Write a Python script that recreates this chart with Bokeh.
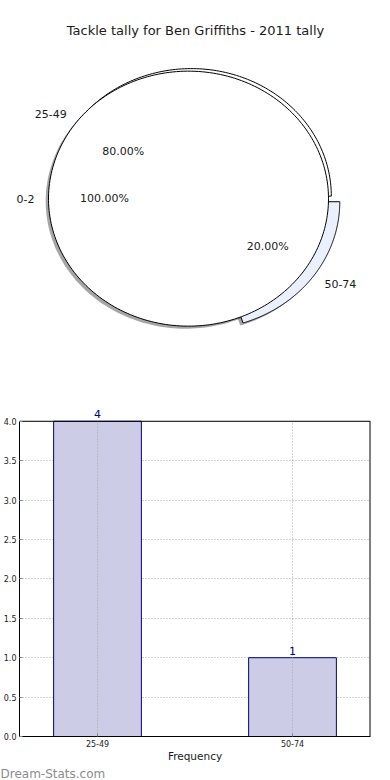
import numpy as np
from bokeh.plotting import figure
from bokeh.models import (Range1d, ColumnDataSource, Label, LabelSet, Title,
                          FixedTicker, NumeralTickFormatter)
from bokeh.embed import file_html
from bokeh.resources import INLINE
from bokeh.core.properties import value

# ---------------- data ----------------
TITLE = "Tackle tally for Ben Griffiths - 2011 tally"
pie_labels = ["0-2", "25-49", "50-74"]
pie_pcts = [100.0, 80.0, 20.0]

bar_cats = ["25-49", "50-74"]
bar_counts = [4, 1]
y_ticks = [0.0, 0.5, 1.0, 1.5, 2.0, 2.5, 3.0, 3.5, 4.0]
WATERMARK = "Dream-Stats.com"

# ---------------- styles ----------------
FONT = "DejaVu Sans"
pie_colors = ["#ffffff", "#ffffff", "#eaf0fd"]
pie_explode = [0.0, 0.0, 0.075]
pie_shift = [(-0.02, -0.02), (0.0, 0.0), (0.0, 0.0)]
SHADOW = (-0.02, -0.02)

# ---------------- pie ----------------
PW, PH = 390, 380
RX, RY = 140.0, 127.5        # px per unit radius
CX, CY = 190.8, 195.6        # px of pie centre inside figure (from left/top)
pie = figure(width=PW, height=PH, output_backend="svg", toolbar_location=None,
             x_range=Range1d(-CX / RX, (PW - CX) / RX),
             y_range=Range1d(-(PH - CY) / RY, CY / RY),
             x_axis_location=None, y_axis_location=None, min_border=0)
pie.grid.visible = False
pie.outline_line_color = None
pie.background_fill_color = "white"


def wedge_xy(cx, cy, t1, t2, n=240):
    th = np.radians(np.linspace(t1, t2, n))
    xs = cx + np.cos(th)
    ys = cy + np.sin(th)
    if t2 - t1 < 359.999:
        xs = np.concatenate([[cx], xs, [cx]])
        ys = np.concatenate([[cy], ys, [cy]])
    return list(xs), list(ys)


angles = [p * 3.6 for p in pie_pcts]
starts = list(np.cumsum([0.0] + angles[:-1]))
wedges = []
for i, lab in enumerate(pie_labels):
    t1 = starts[i]
    t2 = t1 + angles[i]
    mid = np.radians((t1 + t2) / 2)
    cx = pie_shift[i][0] + pie_explode[i] * np.cos(mid)
    cy = pie_shift[i][1] + pie_explode[i] * np.sin(mid)
    wedges.append((cx, cy, t1, t2, mid))

# shadows
sx, sy = [], []
for cx, cy, t1, t2, mid in wedges:
    xs, ys = wedge_xy(cx + SHADOW[0], cy + SHADOW[1], t1, t2)
    sx.append(xs)
    sy.append(ys)
pie.patches(sx, sy, fill_color="#4d4d4d", fill_alpha=0.5, line_color=None)

# wedges, last first
for i in reversed(range(len(pie_labels))):
    cx, cy, t1, t2, mid = wedges[i]
    xs, ys = wedge_xy(cx, cy, t1, t2)
    pie.patch(xs, ys, fill_color=pie_colors[i], line_color="black", line_width=1)

# labels
lx, ly, la, px_, py_, pt = [], [], [], [], [], []
for i, lab in enumerate(pie_labels):
    cx, cy, t1, t2, mid = wedges[i]
    lx.append(cx + 1.1 * np.cos(mid))
    ly.append(cy + 1.1 * np.sin(mid))
    la.append("right" if np.cos(mid) < 0 else "left")
    px_.append(cx + 0.6 * np.cos(mid))
    py_.append(cy + 0.6 * np.sin(mid))
    pt.append("%.2f%%" % pie_pcts[i])
pie.text(x=lx, y=ly, text=pie_labels, text_align=la, text_baseline="middle",
         text_font=value(FONT), text_font_size="11px", text_color="#1a1a1a")
pie.text(x=px_, y=py_, text=pt, text_align="center", text_baseline="middle",
         text_font=value(FONT), text_font_size="11px", text_color="#1a1a1a")

pie.add_layout(Label(x=195, y=PH - 30, x_units="screen", y_units="screen",
                     text=TITLE, text_align="center", text_baseline="middle",
                     text_font=FONT, text_font_size="13px", text_color="#1a1a1a"))

# ---------------- bars ----------------
BW, BH = 390, 400
BOTTOM = 42                  # px reserved below the frame
TOPPAD = 41                  # px above the 4.0 line (room for value labels)
X0, X1 = -0.4, 1.4
Y_TOP = y_ticks[-1]
frame_h = BH - BOTTOM
y_end = Y_TOP + TOPPAD * Y_TOP / (frame_h - TOPPAD)

bar = figure(width=BW, height=BH, output_backend="svg", toolbar_location=None,
             x_range=Range1d(X0, X1), y_range=Range1d(0, y_end),
             min_border_top=0, min_border_right=20, min_border_left=19,
             min_border_bottom=BOTTOM)
bar.outline_line_color = None
src = ColumnDataSource(dict(x=list(range(len(bar_cats))), top=bar_counts,
                            lab=[str(c) for c in bar_counts],
                            y0=[0] * len(bar_cats), y1=[Y_TOP] * len(bar_cats)))

# horizontal grid (under bars)
bar.ygrid.ticker = FixedTicker(ticks=y_ticks)
bar.ygrid.level = "underlay"
bar.ygrid.grid_line_color = "#a8a8a8"
bar.ygrid.grid_line_dash = "1 2"
bar.xgrid.visible = False

bar.vbar(x="x", top="top", width=0.45, source=src, fill_color="#ccccE6",
         line_color="#000080", line_width=1)
# vertical grid lines at the categories, drawn over the bars
bar.segment(x0="x", y0="y0", x1="x", y1="y1", source=src,
            line_color="#a8a8a8", line_dash="1 2", line_width=1)
# top and right border of the plotting box (box ends at the 4.0 line)
bar.segment(x0=[X0], y0=[Y_TOP], x1=[X1], y1=[Y_TOP], line_color="black",
            line_width=1)
bar.segment(x0=[X1], y0=[0], x1=[X1], y1=[Y_TOP], line_color="black",
            line_width=2)

bar.add_layout(LabelSet(x="x", y="top", text="lab", source=src,
                        text_align="center", text_baseline="bottom", y_offset=3,
                        text_color="#000080", text_font=value(FONT),
                        text_font_size="11px"))

bar.xaxis.ticker = FixedTicker(ticks=list(range(len(bar_cats))))
bar.xaxis.major_label_overrides = {i: c for i, c in enumerate(bar_cats)}
bar.yaxis.ticker = FixedTicker(ticks=y_ticks)
bar.yaxis.formatter = NumeralTickFormatter(format="0.0")
bar.yaxis.bounds = (0, Y_TOP)

for ax in (bar.xaxis[0], bar.yaxis[0]):
    ax.axis_line_color = "black"
    ax.major_tick_in = 3
    ax.major_tick_out = 0
    ax.major_tick_line_color = "#888888"
    ax.minor_tick_line_color = None
    ax.major_label_text_font = FONT
    ax.major_label_text_color = "#222222"
    ax.major_label_text_font_size = "8px"
    ax.major_label_standoff = 3
bar.xaxis.axis_label = "Frequency"
bar.xaxis.axis_label_text_font = FONT
bar.xaxis.axis_label_text_font_size = "10.5px"
bar.xaxis.axis_label_text_font_style = "normal"
bar.xaxis.axis_label_text_color = "#1a1a1a"
bar.xaxis.axis_label_standoff = 0

bar.add_layout(Title(text=WATERMARK, align="left", offset=-19, standoff=0,
                     text_font=FONT, text_font_size="12px",
                     text_font_style="normal", text_color="#8c8c8c"), "below")

open("out.html", "w").write(file_html([pie, bar], INLINE))
